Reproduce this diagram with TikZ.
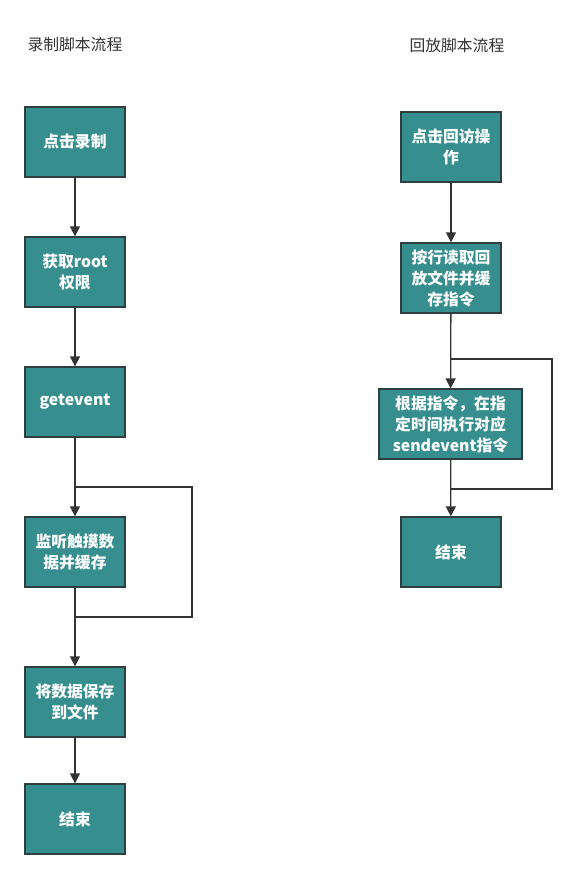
\documentclass[tikz,border=0pt]{standalone}
\usepackage{fontspec}
\setmainfont{Noto Sans CJK SC}
\usetikzlibrary{arrows.meta}
\definecolor{boxfill}{HTML}{368E8E}
\definecolor{boxline}{HTML}{2F3F3F}
\definecolor{lineclr}{HTML}{333333}
\begin{document}
\begin{tikzpicture}[x=1pt,y=-1pt,
  stepbox/.style={draw=boxline,line width=1.3pt,fill=boxfill,text=white,
    font=\fontsize{15.8}{21}\selectfont\bfseries,align=center,inner sep=0pt},
  title/.style={font=\fontsize{15.8}{20}\selectfont,text=black!80,anchor=west},
  conn/.style={draw=lineclr,line width=1.3pt},
  arr/.style={conn,-{Triangle[length=10pt,width=10pt]}}]
\useasboundingbox (0,0) rectangle (578,879);
% titles
\node[title] (t1) at (24,45) {录制脚本流程};
\node[title] (t2) at (406,45) {回放脚本流程};
% left column
\node[stepbox,minimum width=100pt,minimum height=70pt] (a1) at (75,142) {点击录制};
\node[stepbox,minimum width=100pt,minimum height=70pt] (a2) at (75,272) {获取root\\权限};
\node[stepbox,minimum width=100pt,minimum height=70pt] (a3) at (75,402) {getevent};
\node[stepbox,minimum width=100pt,minimum height=70pt] (a4) at (75,552) {监听触摸数\\据并缓存};
\node[stepbox,minimum width=100pt,minimum height=70pt] (a5) at (75,702) {将数据保存\\到文件};
\node[stepbox,minimum width=100pt,minimum height=70pt] (a6) at (75,819) {结束};
\coordinate (la) at (75,487);
\coordinate (lb) at (192,487);
\coordinate (lc) at (192,617);
\coordinate (ld) at (75,617);
\draw[arr] (a1) -- (a2);
\draw[arr] (a2) -- (a3);
\draw[arr] (a3) -- (a4);
\draw[arr] (a4) -- (a5);
\draw[arr] (a5) -- (a6);
\draw[conn] (ld) -- (lc) -- (lb) -- (la);
% right column
\node[stepbox,minimum width=100pt,minimum height=70pt] (b1) at (451,147) {点击回访操\\作};
\node[stepbox,minimum width=100pt,minimum height=70pt] (b2) at (451,278) {按行读取回\\放文件并缓\\存指令};
\node[stepbox,minimum width=143pt,minimum height=70pt] (b3) at (450.5,424) {根据指令，在指\\定时间执行对应\\sendevent指令};
\node[stepbox,minimum width=100pt,minimum height=70pt] (b4) at (451,552) {结束};
\coordinate (ra) at (451,359);
\coordinate (rb) at (552,359);
\coordinate (rc) at (552,489);
\coordinate (rd) at (451,489);
\draw[arr] (b1) -- (b2);
\draw[arr] (b2) -- (b3);
\draw[arr] (b3) -- (b4);
\draw[conn] (rd) -- (rc) -- (rb) -- (ra);
\end{tikzpicture}
\end{document}
